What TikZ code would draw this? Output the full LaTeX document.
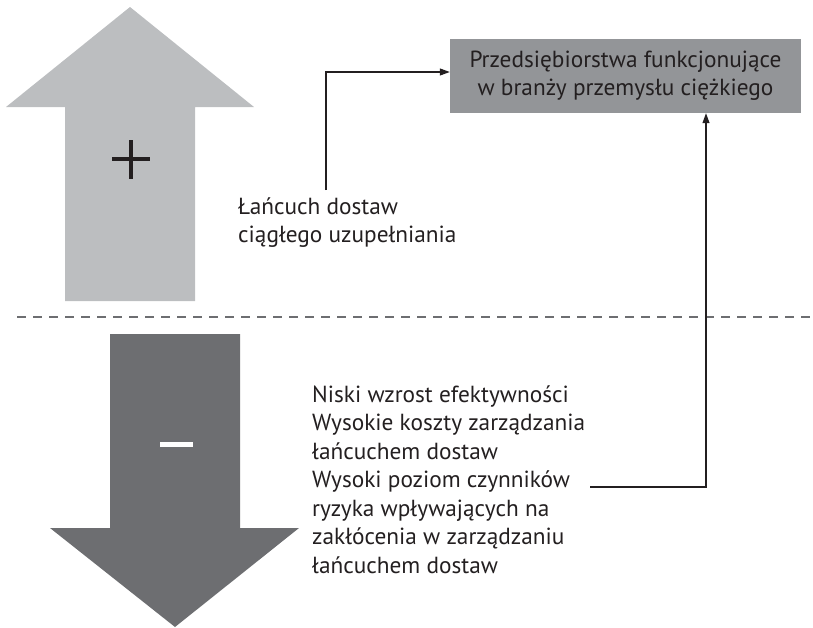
\documentclass[tikz,border=0pt]{standalone}
\usepackage{fontspec}
\setmainfont{PT Sans}
\usetikzlibrary{arrows.meta}
\definecolor{uparrow}{HTML}{BCBEC0}
\definecolor{downarrow}{HTML}{6D6E71}
\definecolor{boxgray}{HTML}{939598}
\definecolor{ink}{HTML}{231F20}
\begin{document}
\begin{tikzpicture}[x=1pt,y=-1pt,
  txt/.style={font=\fontsize{23.3}{28.5}\selectfont, text=ink, align=left, inner sep=0pt},
  firmbox/.style={fill=boxgray, text=ink, align=center, inner sep=0pt,
    minimum width=351pt, minimum height=74pt, font=\fontsize{23.3}{28}\selectfont},
  conn/.style={draw=ink, line width=1.1pt, -{Triangle[length=10pt,width=7pt]}},
]
\useasboundingbox (0,0) rectangle (813,627);
% up arrow (+)
\fill[uparrow] (130,7) -- (254,107) -- (195,107) -- (195,301) -- (65,301) -- (65,107) -- (6,107) -- cycle;
\fill[ink] (112,157.3) rectangle (150,160.7);
\fill[ink] (129.3,140) rectangle (132.7,179);
% down arrow (-)
\fill[downarrow] (175,627) -- (299,528) -- (240,528) -- (240,334) -- (110,334) -- (110,528) -- (50,528) -- cycle;
\fill[white] (160,442) rectangle (193,447);
% separator
\draw[downarrow, line width=1.5pt, dash pattern=on 9pt off 7pt] (17,317) -- (813,317);
% box
\node[firmbox] (firm) at (625.5,76) {Przedsiębiorstwa funkcjonujące\\w branży przemysłu ciężkiego};
% texts (base = baseline of last line)
\node[txt, anchor=base west] (lan) at (238,242.5) {Łańcuch dostaw\\ciągłego uzupełniania};
\node[txt, anchor=base west] (neg) at (312,573) {Niski wzrost efektywności\\Wysokie koszty zarządzania\\łańcuchem dostaw\\Wysoki poziom czynników\\ryzyka wpływających na\\zakłócenia w zarządzaniu\\łańcuchem dostaw};
% connectors
\coordinate (c1) at (326,190);
\coordinate (c2) at (590,487);
\draw[conn] (c1) |- ([yshift=4pt]firm.west);
\draw[conn] (c2) -| ([xshift=80.5pt]firm.south);
\end{tikzpicture}
\end{document}
